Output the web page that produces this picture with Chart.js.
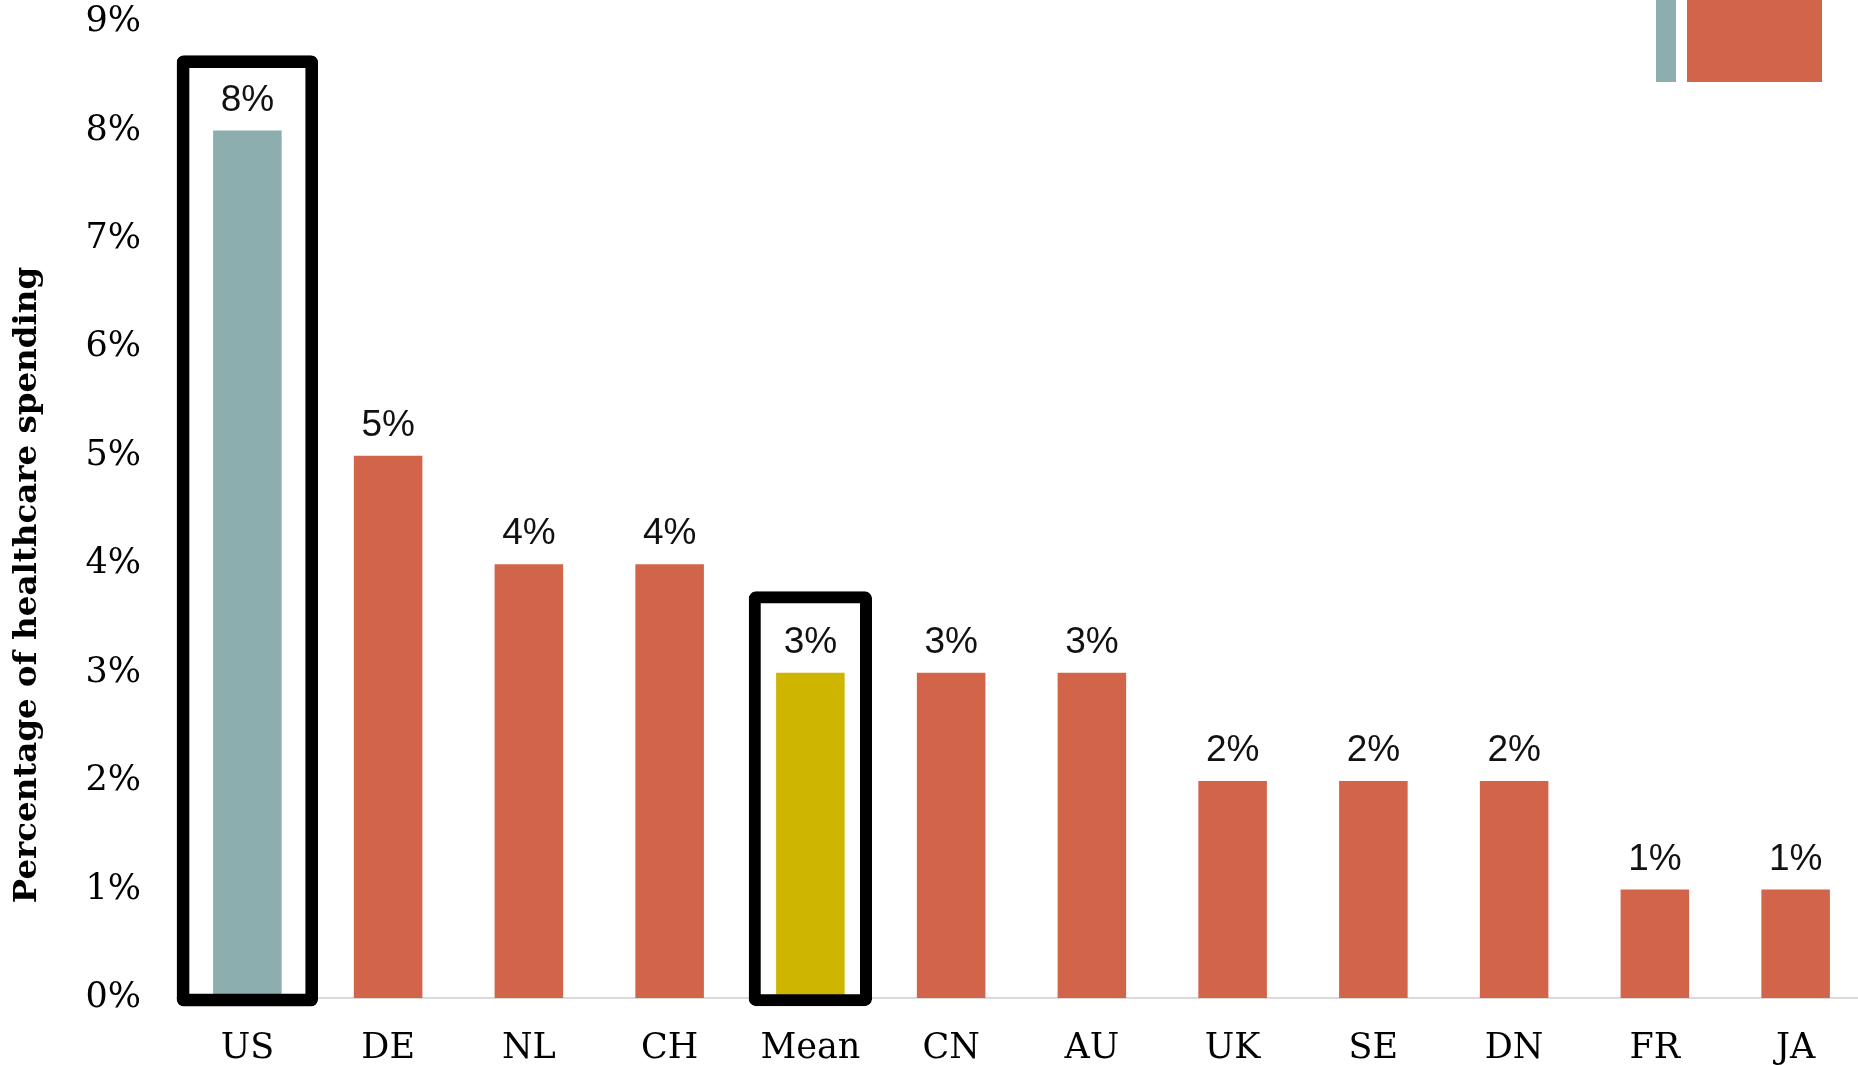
<!DOCTYPE html>
<html>
<head>
<meta charset="utf-8">
<script src="https://cdn.jsdelivr.net/npm/chart.js@4/dist/chart.umd.min.js"></script>
<style>
  html, body { margin: 0; padding: 0; overflow: hidden; background: #fff; }
  #wrap { position: absolute; left: 0; top: 0; width: 1866px; height: 1065px; }
</style>
</head>
<body>
<div id="wrap"><canvas id="chart"></canvas></div>
<script>
var countries = ["US", "DE", "NL", "CH", "Mean", "CN", "AU", "UK", "SE", "DN", "FR", "JA"];
var spending = [8, 5, 4, 4, 3, 3, 3, 2, 2, 2, 1, 1];
var barColors = [
  "#8daeae", "#d2644a", "#d2644a", "#d2644a", "#cdb500", "#d2644a",
  "#d2644a", "#d2644a", "#d2644a", "#d2644a", "#d2644a", "#d2644a"
];
// highlight frames round US and Mean, as value ranges
var usFrame = [[-0.075, 8.69], null, null, null, null, null, null, null, null, null, null, null];
var meanFrame = [null, null, null, null, [-0.075, 3.75], null, null, null, null, null, null, null];
var yTicks = [0, 1, 2, 3, 4, 5, 6, 7, 8, 9];

var valueLabels = {
  id: "valueLabels",
  afterDatasetsDraw(chart) {
    var ctx = chart.ctx;
    var meta = chart.getDatasetMeta(0);
    ctx.save();
    ctx.font = "37px 'Liberation Sans', Arial, sans-serif";
    ctx.fillStyle = "#111";
    ctx.textAlign = "center";
    ctx.textBaseline = "middle";
    meta.data.forEach(function (bar, i) {
      ctx.fillText(spending[i] + "%", bar.x, bar.y - 30);
    });
    ctx.restore();
  }
};

var extras = {
  id: "extras",
  afterDraw(chart) {
    var ctx = chart.ctx;
    ctx.save();
    // y axis title
    ctx.translate(28, 585);
    ctx.rotate(-Math.PI / 2);
    ctx.font = "bold 32.5px 'DejaVu Serif', serif";
    ctx.fillStyle = "#000";
    ctx.textAlign = "center";
    ctx.textBaseline = "middle";
    ctx.fillText("Percentage of healthcare spending", 0, 0);
    ctx.restore();
    // legend swatches top right
    ctx.save();
    ctx.fillStyle = "#8daeae";
    ctx.fillRect(1656, 0, 20, 82);
    ctx.fillStyle = "#d2644a";
    ctx.fillRect(1687, 0, 135, 82);
    ctx.restore();
  }
};

new Chart("chart", {
  type: "bar",
  data: {
    labels: countries,
    datasets: [
      {
        data: spending,
        backgroundColor: barColors,
        barPercentage: 0.487,
        categoryPercentage: 1,
        grouped: false,
        order: 2
      },
      {
        data: usFrame,
        backgroundColor: "rgba(0,0,0,0)",
        borderColor: "#000",
        borderWidth: 12,
        borderRadius: 7,
        borderSkipped: false,
        barPercentage: 1,
        categoryPercentage: 1,
        grouped: false,
        clip: false,
        order: 1
      },
      {
        data: meanFrame,
        backgroundColor: "rgba(0,0,0,0)",
        borderColor: "#000",
        borderWidth: 12,
        borderRadius: 7,
        borderSkipped: false,
        barPercentage: 0.876,
        categoryPercentage: 1,
        grouped: false,
        clip: false,
        order: 1
      }
    ]
  },
  options: {
    responsive: true,
    maintainAspectRatio: false,
    animation: false,
    layout: { padding: { top: 22, left: 0, right: 0, bottom: 0 } },
    plugins: {
      legend: { display: false },
      tooltip: { enabled: false }
    },
    scales: {
      x: {
        grid: { display: false, drawTicks: false },
        border: { display: true, color: "#dadada", width: 2 },
        ticks: {
          color: "#000",
          padding: 30,
          font: { family: "'DejaVu Serif', serif", size: 35 }
        },
        afterFit(scale) {
          scale.height = 67;
          scale.paddingLeft = 0;
          scale.paddingRight = 0;
        }
      },
      y: {
        min: 0,
        max: 9,
        grid: { display: false, drawTicks: false },
        border: { display: false },
        afterBuildTicks(scale) {
          scale.ticks = yTicks.map(function (v) { return { value: v }; });
        },
        ticks: {
          color: "#000",
          padding: 36,
          font: { family: "'DejaVu Serif', serif", size: 35 },
          callback: function (v) { return v + "%"; }
        },
        afterFit(scale) {
          scale.width = 177;
          scale.paddingTop = 0;
          scale.paddingBottom = 0;
        }
      }
    }
  },
  plugins: [valueLabels, extras]
});
</script>
</body>
</html>
